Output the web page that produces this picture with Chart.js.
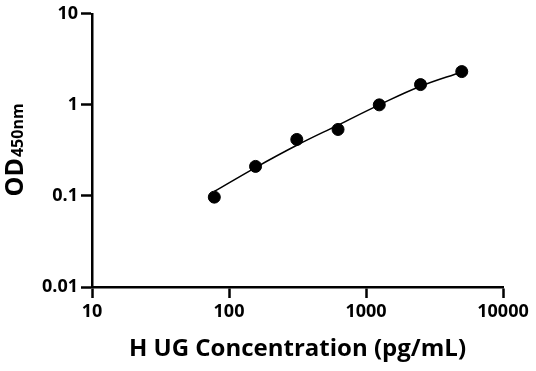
<!DOCTYPE html>
<html>
<head>
<meta charset="utf-8">
<script src="https://cdn.jsdelivr.net/npm/chart.js@4/dist/chart.umd.min.js"></script>
<style>
  html, body { margin: 0; padding: 0; background: #fff; }
  #wrap { width: 536px; height: 371px; position: relative; }
</style>
</head>
<body>
<div id="wrap"><canvas id="chart"></canvas></div>
<script>
  "use strict";

  // measured standards
  const concentrations = [78.125, 156.25, 312.5, 625, 1250, 2500, 5000];
  const odValues = [0.097, 0.211, 0.417, 0.537, 1.0, 1.67, 2.32];

  // fitted curve
  const curveX = [78.125, 156.25, 312.5, 625, 1250, 2500, 5000];
  const curveY = [0.112, 0.205, 0.36, 0.6, 1.0, 1.6, 2.3];

  const xTicks = [10, 100, 1000, 10000];
  const yTicks = [0.01, 0.1, 1, 10];

  const FONT = "'Open Sans', 'Noto Sans', sans-serif";

  const toPoints = (xs, ys) => xs.map((x, i) => ({x, y: ys[i]}));

  // y title with the smaller "450nm" part, drawn rotated
  const yTitlePlugin = {
    id: "yTitle",
    afterDraw(chart) {
      const {ctx, chartArea} = chart;
      const cy = (chartArea.top + chartArea.bottom) / 2;
      ctx.save();
      ctx.translate(0, cy);
      ctx.rotate(-Math.PI / 2);
      ctx.fillStyle = "#000";
      ctx.textBaseline = "alphabetic";
      ctx.textAlign = "left";
      ctx.font = `bold 25px ${FONT}`;
      const w1 = ctx.measureText("OD").width;
      ctx.font = `bold 16px ${FONT}`;
      const w2 = ctx.measureText("450nm").width;
      const start = -(w1 + w2) / 2;
      ctx.font = `bold 25px ${FONT}`;
      ctx.fillText("OD", start, 23);
      ctx.font = `bold 16px ${FONT}`;
      ctx.fillText("450nm", start + w1 + 1, 23);
      ctx.restore();
    },
  };

  new Chart(document.getElementById("chart"), {
    type: "scatter",
    data: {
      datasets: [
        {
          label: "Fit",
          data: toPoints(curveX, curveY),
          showLine: true,
          borderColor: "#000",
          borderWidth: 1.5,
          pointRadius: 0,
          tension: 0.4,
          order: 2,
        },
        {
          label: "Standards",
          data: toPoints(concentrations, odValues),
          showLine: false,
          backgroundColor: "#000",
          borderColor: "#000",
          pointRadius: 6,
          pointHoverRadius: 6,
          order: 1,
        },
      ],
    },
    options: {
      responsive: true,
      maintainAspectRatio: false,
      animation: false,
      layout: {padding: {top: 13, right: 33, left: 0, bottom: 0}},
      plugins: {legend: {display: false}, tooltip: {enabled: false}},
      scales: {
        x: {
          type: "logarithmic",
          min: 10,
          max: 10000,
          afterBuildTicks(scale) { scale.ticks = xTicks.map((value) => ({value})); },
          afterFit(scale) { scale.height = 84; },
          grid: {drawOnChartArea: false, drawTicks: true, tickLength: 11, tickWidth: 2.5, tickColor: "#000"},
          border: {display: true, color: "#000", width: 2.5},
          ticks: {
            color: "#000",
            font: {family: FONT, size: 18, weight: "bold"},
            padding: 3,
            maxRotation: 0,
            callback: (v) => String(v),
          },
          title: {
            display: true,
            text: "H UG Concentration (pg/mL)",
            color: "#000",
            font: {family: FONT, size: 24, weight: "bold"},
            padding: {top: 4, bottom: 7},
          },
        },
        y: {
          type: "logarithmic",
          min: 0.01,
          max: 10,
          afterBuildTicks(scale) { scale.ticks = yTicks.map((value) => ({value})); },
          afterFit(scale) { scale.width = 92; },
          grid: {drawOnChartArea: false, drawTicks: true, tickLength: 11, tickWidth: 2.5, tickColor: "#000"},
          border: {display: true, color: "#000", width: 2.5},
          ticks: {
            color: "#000",
            font: {family: FONT, size: 18, weight: "bold"},
            padding: 3,
            callback: (v) => String(v),
          },
        },
      },
    },
    plugins: [yTitlePlugin],
  });
</script>
</body>
</html>
